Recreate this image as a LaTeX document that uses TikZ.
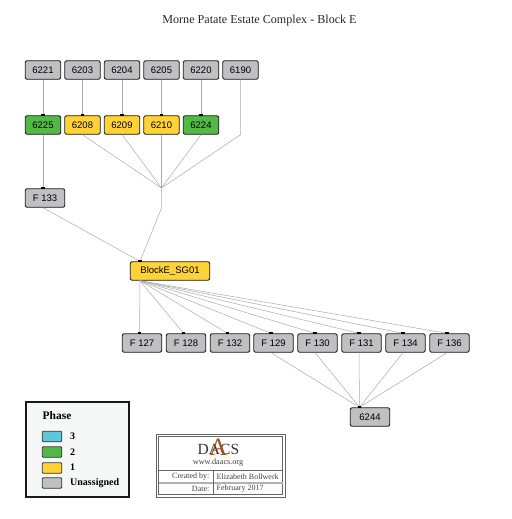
\documentclass[tikz,border=0pt]{standalone}
\usepackage{fontspec}
\setmainfont{Liberation Serif}
\setsansfont{Liberation Sans}
\definecolor{cgray}{HTML}{C0C0C2}
\definecolor{cgreen}{HTML}{52B947}
\definecolor{cyellow}{HTML}{FFD338}
\definecolor{ccyan}{HTML}{5CC8D8}
\definecolor{cedge}{HTML}{ABABAB}
\definecolor{cpanel}{HTML}{F5F8F6}
\definecolor{cbrown}{HTML}{A0521E}
\tikzset{
  ctx/.style={draw=black!90,line width=.9pt,rounded corners=2pt,minimum height=18.5pt,inner sep=0pt,font=\sffamily\fontsize{9.5}{10}\selectfont,text=black},
  small/.style={ctx,minimum width=35.5pt},
  wide/.style={ctx,minimum width=39.5pt},
  gr/.style={fill=cgray},
  gn/.style={fill=cgreen},
  yl/.style={fill=cyellow},
  link/.style={draw=cedge,line width=.5pt},
  swatch/.style={draw=black!80,line width=.9pt,rounded corners=1pt,minimum width=19.5pt,minimum height=10.5pt,inner sep=0pt},
  leg/.style={anchor=west,font=\fontsize{10}{11}\selectfont\bfseries,inner sep=0pt},
  cell/.style={font=\fontsize{8}{9}\selectfont,inner sep=0pt,text=black!75},
  port/.style={fill=black,inner sep=0pt,minimum width=3.4pt,minimum height=2pt},
  logotext/.style={font=\fontsize{15.5}{16}\selectfont,text=black!80,inner sep=0pt}
}
\begin{document}
\begin{tikzpicture}[x=1pt,y=-1pt]
\useasboundingbox (0,0) rectangle (511,519);
\node[font=\fontsize{12.1}{14}\selectfont,text=black!85] (title) at (259.5,21) {Morne Patate Estate Complex - Block E};
\coordinate (j1) at (161.5,188);
\coordinate (j2) at (161.5,208);
\foreach \n/\x in {6221/43,6203/82.5,6204/122,6205/161.5,6220/201,6190/240.5}
  \node[small,gr] (n\n) at (\x,70) {\n};
\node[small,gn] (n6225) at (43,125) {6225};
\node[small,yl] (n6208) at (82.5,125) {6208};
\node[small,yl] (n6209) at (122,125) {6209};
\node[small,yl] (n6210) at (161.5,125) {6210};
\node[small,gn] (n6224) at (201,125) {6224};
\node[wide,gr] (f133) at (45,198) {F 133};
\node[ctx,yl,minimum width=79.5pt] (sg) at (170,271) {BlockE\_SG01};
\foreach \n/\x in {127/142,128/186,132/230,129/273.5,130/317.5,131/361.5,134/405.5,136/449.5}
  \node[wide,gr] (f\n) at (\x,343) {F \n};
\node[wide,gr] (n6244) at (370,417) {6244};
\coordinate (sgb) at ([xshift=-30pt]sg.south);
\coordinate (sgt) at ([xshift=-30pt]sg.north);
\coordinate (f133t) at ([xshift=-2pt]f133.north);
\coordinate (f133b) at ([xshift=-2pt]f133.south);
\coordinate (t6244) at ([xshift=-10.5pt]n6244.north);
\coordinate (b6190) at (n6190.south |- n6224.south);
\foreach \a/\b in {6221/6225,6203/6208,6204/6209,6205/6210,6220/6224}
  \draw[link] (n\a.south) -- (n\b.north);
\draw[link] (n6225.south) -- (f133t);
\foreach \a in {6208,6209,6210,6224} \draw[link] (n\a.south) -- (j1);
\draw[link] (n6190.south) -- (b6190) -- (j1);
\draw[link] (j1) -- (j2) -- (sgt);
\draw[link] (f133b) -- (sgt);
\foreach \n in {127,128,132,129,130,131,134,136}{
  \coordinate (f\n t) at ([xshift=-2.5pt]f\n.north);
  \coordinate (f\n b) at ([xshift=-2.5pt]f\n.south);
  \draw[link] (sgb) -- (f\n t);
  \node[port] (pf\n) at ([yshift=.6pt]f\n t) {};
}
\foreach \n in {129,130,131,134,136} \draw[link] (f\n b) -- (t6244);
\foreach \a in {6225,6208,6209,6210,6224} \node[port] (p\a) at ([yshift=.6pt]n\a.north) {};
\node[port] (pf133) at ([yshift=.6pt]f133t) {};
\node[port] (psg) at ([yshift=.6pt]sgt) {};
\node[port] (p6244) at ([yshift=.6pt]t6244) {};
% legend
\node[draw=black!90,line width=1.4pt,fill=cpanel,minimum width=103pt,minimum height=95pt,inner sep=0pt] (legend) at (77.5,449.5) {};
\node[leg,font=\fontsize{11.5}{12}\selectfont\bfseries] (lt) at (42.5,416) {Phase};
\node[swatch,fill=ccyan] (s3) at (52,436.5) {};
\node[swatch,fill=cgreen] (s2) at (52,452) {};
\node[swatch,fill=cyellow] (s1) at (52,468) {};
\node[swatch,fill=cgray] (s0) at (52,483) {};
\node[leg] (l3) at (70,436.5) {3};
\node[leg] (l2) at (70,452) {2};
\node[leg] (l1) at (70,467.5) {1};
\node[leg] (l0) at (70,483) {Unassigned};
% credit block
\draw[draw=black!60,line width=.8pt] (156,434) rectangle (285,497);
\draw[draw=black!60,line width=.8pt] (158.5,436.5) rectangle (282.5,494.5);
\draw[draw=black!60,line width=.6pt] (158.5,470.5) -- (282.5,470.5);
\draw[draw=black!30,line width=1.5pt] (158.5,483) -- (282.5,483);
\draw[draw=black!60,line width=.6pt] (213,470.5) -- (213,494.5);
\node[logotext,anchor=west] (logo1) at (197.5,449.5) {DA};
\node[logotext,anchor=west] (logo2) at (220,449.5) {CS};
\node[font=\fontsize{25}{26}\selectfont,text=cbrown,inner sep=0pt] (logoa) at (218.5,447) {A};
\node[cell,font=\fontsize{8.2}{9}\selectfont] (web) at (218,463) {www.daacs.org};
\node[cell,anchor=east] (c1) at (209.5,476.5) {Created by:};
\node[cell,anchor=west] (c2) at (216.5,476.5) {Elizabeth Bollwerk};
\node[cell,anchor=east] (c3) at (209.5,489) {Date:};
\node[cell,anchor=west] (c4) at (216.5,489) {February 2017};
\end{tikzpicture}
\end{document}
